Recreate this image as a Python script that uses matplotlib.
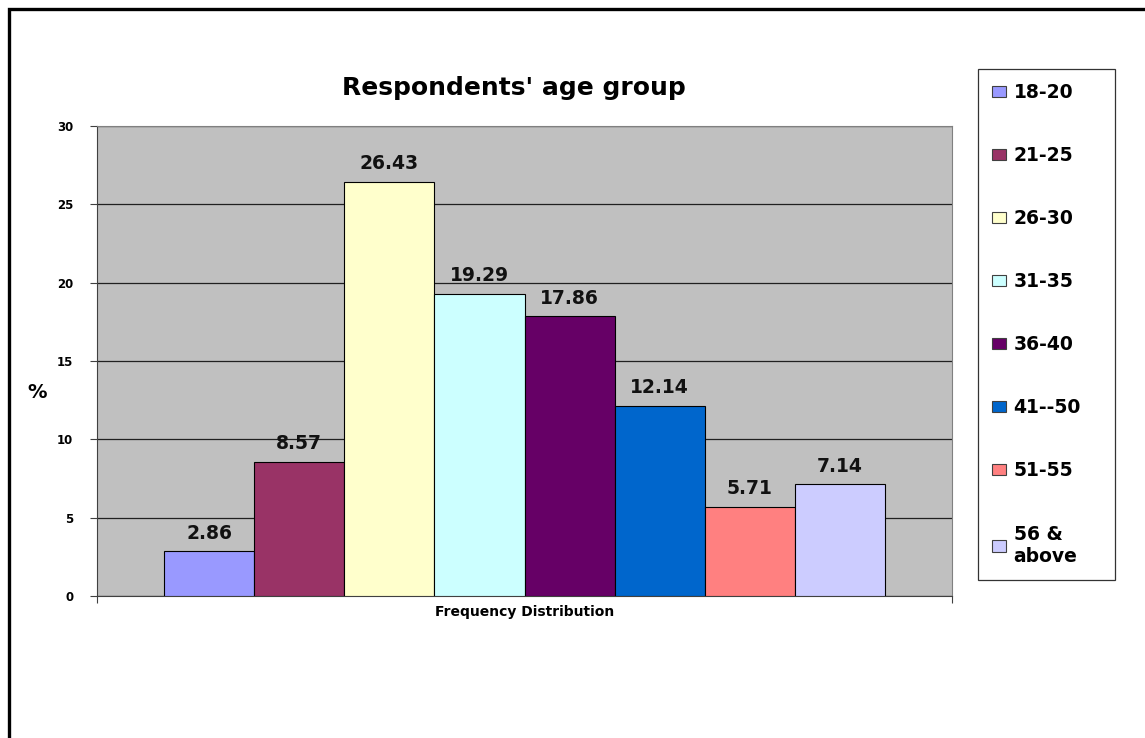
import numpy as np
import matplotlib.pyplot as plt
from matplotlib.patches import Patch, Rectangle

# Age groups and share of respondents (%)
groups = ['18-20', '21-25', '26-30', '31-35', '36-40', '41--50', '51-55', '56 &\nabove']
values = [2.86, 8.57, 26.43, 19.29, 17.86, 12.14, 5.71, 7.14]
colors = ['#9999FF', '#993366', '#FFFFCC', '#CCFFFF', '#660066', '#0066CC', '#FF8080', '#CCCCFF']
yticks = [0, 5, 10, 15, 20, 25, 30]

W, H = 1145, 738
plt.rcParams['font.family'] = ['DejaVu Sans']
fig = plt.figure(figsize=(W / 100, H / 100), dpi=100)

# outer frame, only top and left edges fall inside the canvas
fig.patches.append(Rectangle((9 / W, -0.1), 1.2, (H - 9) / H + 0.1,
                             transform=fig.transFigure, fill=False,
                             lw=2.4, ec='black'))

ax = fig.add_axes([97 / W, 142 / H, 855 / W, 470 / H])
ax.set_facecolor('#C0C0C0')

w = 0.8433 / len(values)
xs = (np.arange(len(values)) - (len(values) - 1) / 2) * w
bars = ax.bar(xs, values, width=w, color=colors, edgecolor='black', lw=0.8, zorder=3)

for x, v in zip(xs, values):
    ax.text(x, v + 0.55, f'{v:.2f}', ha='center', va='bottom', fontsize=13.5,
            fontweight='bold', color='#111111', zorder=4)

ax.set_xlim(-0.5, 0.5)
ax.set_ylim(0, 30)
ax.set_yticks(yticks)
ax.set_yticklabels([str(t) for t in yticks], fontsize=8.5, fontweight='heavy')
ax.set_xticks([-0.5, 0.5])
ax.set_xticklabels(['', ''])
ax.tick_params(axis='y', length=5, width=0.8, color='#404040', pad=12)
ax.tick_params(axis='x', length=5, width=0.8, color='#404040')
ax.yaxis.grid(True, color='#202020', lw=0.9, zorder=1)
ax.set_axisbelow(True)
for s in ['top', 'right']:
    ax.spines[s].set_color('#808080')
ax.spines['left'].set_color('#404040')
ax.spines['bottom'].set_color('#404040')

ax.set_xlabel('Frequency Distribution', fontsize=10, fontweight='bold', labelpad=-2)
fig.text(37 / W, 1 - 392 / H, '%', fontsize=14, fontweight='bold',
         ha='center', va='center')
fig.text(514 / W, 1 - 88 / H, "Respondents' age group", fontsize=18,
         fontweight='bold', ha='center', va='center')

handles = [Patch(facecolor=c, edgecolor='#404040', lw=0.8) for c in colors]
leg = fig.legend(handles, groups, loc='upper left',
                 bbox_to_anchor=(978 / W, 1 - 69 / H, 137 / W, 0),
                 mode='expand', fancybox=False, edgecolor='black',
                 prop={'size': 13.5, 'weight': 'bold'},
                 handlelength=0.75, handleheight=0.55, handletextpad=0.4,
                 labelspacing=2.35, borderpad=0.75, borderaxespad=0)
leg.get_frame().set_linewidth(0.9)

fig.savefig('out.png', dpi=100)
